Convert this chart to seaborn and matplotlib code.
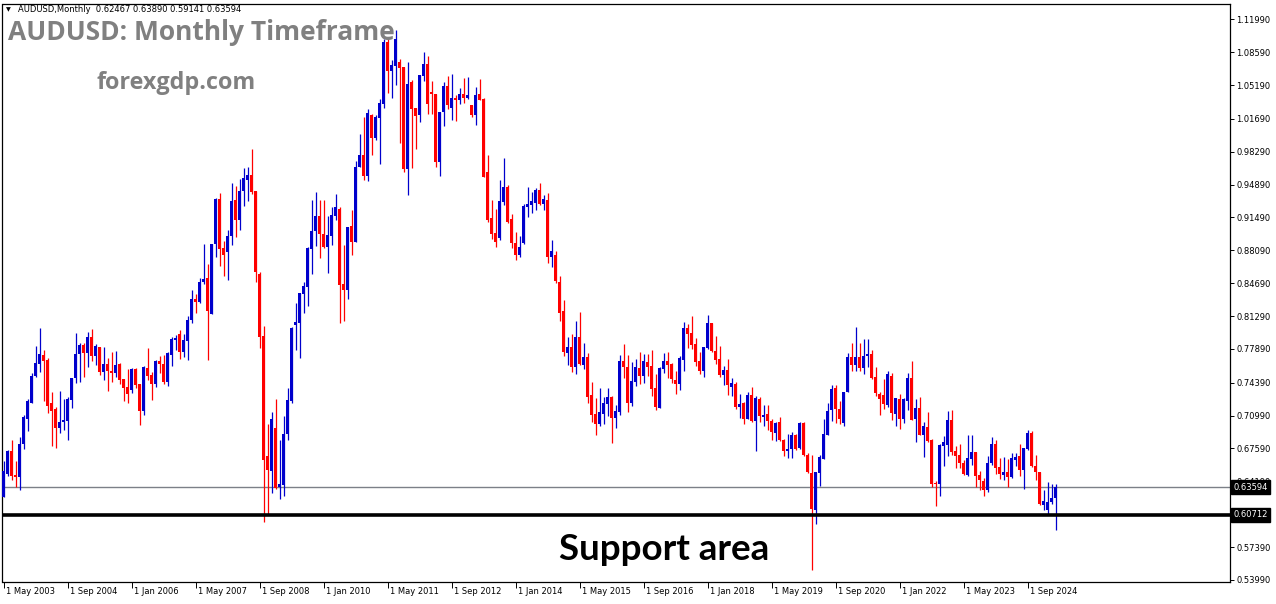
import numpy as np
import pandas as pd
import matplotlib
matplotlib.use("Agg")
import matplotlib.pyplot as plt
import matplotlib.transforms as mtransforms
import seaborn as sns

# ---------------- data (AUDUSD monthly, May 2003 .. Apr 2025) ----------------
opens = [
0.6260,0.6498,0.6732,0.6484,0.6467,0.6805,0.7063,0.7233,
0.7505,0.7636,0.7726,0.7674,0.7226,0.7167,0.6974,0.7032,0.7046,0.7264,0.7491,0.7733,
0.7829,0.7750,0.7912,0.7719,0.7808,0.7550,0.7633,0.7560,0.7539,0.7636,0.7477,0.7395,
0.7364,0.7584,0.7426,0.7146,0.7591,0.7519,0.7426,0.7664,0.7633,0.7446,0.7729,0.7881,
0.7939,0.7760,0.7874,0.8088,0.8305,0.8274,0.8481,0.8522,0.8153,0.8874,0.9340,0.8833,
0.8791,0.8957,0.9329,0.9122,0.9422,0.9536,0.9588,0.9422,0.8564,0.7922,0.6680,0.6525,
0.6970,0.6360,0.6380,0.6908,0.7250,0.8036,0.8057,0.8357,0.8429,0.8822,0.9009,0.9164,
0.8978,0.8843,0.8957,0.9164,0.9236,0.8460,0.8398,0.9060,0.8895,0.9667,0.9795,0.9578,
1.0209,0.9971,1.0178,1.0323,1.0964,1.0664,1.0716,1.0757,1.0705,0.9650,1.0550,1.0281,
1.0209,1.0612,1.0737,1.0447,1.0426,0.9723,1.0240,1.0509,1.0281,1.0385,1.0364,1.0426,
1.0385,1.0312,1.0209,1.0426,1.0374,0.9619,0.9143,0.8988,0.8936,0.9309,0.9464,0.9133,
0.8885,0.8760,0.8885,0.9257,0.9278,0.9298,0.9433,0.9288,0.9329,0.8740,0.8760,0.8481,
0.8181,0.7747,0.7809,0.7602,0.7912,0.7622,0.7705,0.7312,0.7115,0.7012,0.7115,0.7219,
0.7291,0.7074,0.7136,0.7664,0.7602,0.7229,0.7446,0.7591,0.7509,0.7653,0.7612,0.7384,
0.7177,0.7581,0.7664,0.7633,0.7467,0.7426,0.7674,0.8005,0.7953,0.7840,0.7664,0.7560,
0.7798,0.8057,0.7767,0.7684,0.7519,0.7571,0.7394,0.7426,0.7188,0.7229,0.7064,0.7312,
0.7043,0.7271,0.7084,0.7115,0.7040,0.6919,0.7033,0.6846,0.6733,0.6753,0.6898,0.6763,
0.7022,0.6691,0.6505,0.6122,0.6505,0.6650,0.6898,0.7157,0.7384,0.7167,0.7022,0.7343,
0.7705,0.7622,0.7705,0.7591,0.7716,0.7736,0.7498,0.7322,0.7312,0.7208,0.7508,0.7115,
0.7271,0.7064,0.7250,0.7488,0.7064,0.7177,0.6898,0.6981,0.6846,0.6401,0.6391,0.6784,
0.6795,0.7053,0.6732,0.6691,0.6608,0.6484,0.6650,0.6722,0.6484,0.6422,0.6329,0.6608,
0.6805,0.6567,0.6484,0.6515,0.6463,0.6639,0.6681,0.6536,0.6753,0.6919,0.6577,0.6515,
0.6174,0.6122,0.6205,0.62467]
highs = [
0.6629,0.6746,0.6846,0.6629,0.6881,0.7105,0.7270,0.7536,
0.7819,0.8005,0.7777,0.7695,0.7343,0.7184,0.7353,0.7270,0.7295,0.7491,0.7957,0.7853,
0.7846,0.7964,0.7995,0.7836,0.7808,0.7808,0.7698,0.7760,0.7767,0.7643,0.7477,0.7581,
0.7591,0.7591,0.7426,0.7612,0.7798,0.7550,0.7674,0.7719,0.7726,0.7760,0.7909,0.7933,
0.7984,0.7943,0.8129,0.8398,0.8357,0.8522,0.8874,0.8667,0.8874,0.9350,0.9402,0.8905,
0.9019,0.9502,0.9474,0.9547,0.9664,0.9674,0.9857,0.9422,0.8584,0.8026,0.7012,0.7136,
0.7270,0.6846,0.7094,0.7384,0.8015,0.8264,0.8367,0.8481,0.8843,0.9329,0.9412,0.9329,
0.9329,0.9164,0.9257,0.9391,0.9257,0.8864,0.9050,0.9226,0.9733,1.0012,1.0188,1.0271,
1.0219,1.0209,1.0374,1.0995,1.1016,1.0778,1.1088,1.0788,1.0705,1.0757,1.0571,1.0281,
1.0623,1.0861,1.0819,1.0561,1.0426,1.0240,1.0550,1.0612,1.0633,1.0416,1.0488,1.0592,
1.0602,1.0312,1.0499,1.0581,1.0385,0.9795,0.9329,0.9236,0.9536,0.9764,0.9485,0.9185,
0.8998,0.8957,0.9288,0.9464,0.9412,0.9454,0.9505,0.9381,0.9402,0.8916,0.8802,0.8543,
0.8295,0.7912,0.7943,0.8078,0.8171,0.7850,0.7747,0.7446,0.7281,0.7384,0.7291,0.7384,
0.7302,0.7208,0.7726,0.7840,0.7726,0.7653,0.7684,0.7757,0.7736,0.7736,0.7778,0.7529,
0.7602,0.7747,0.7757,0.7643,0.7560,0.7715,0.8067,0.8047,0.8129,0.7902,0.7757,0.7809,
0.8140,0.8057,0.7922,0.7819,0.7612,0.7684,0.7488,0.7446,0.7322,0.7240,0.7343,0.7395,
0.7302,0.7291,0.7208,0.7208,0.7064,0.7033,0.7084,0.6857,0.6908,0.6929,0.6908,0.7033,
0.7030,0.6710,0.6691,0.6515,0.6691,0.7064,0.7229,0.7415,0.7415,0.7250,0.7343,0.7746,
0.7850,0.8016,0.7850,0.7891,0.7891,0.7778,0.7602,0.7343,0.7477,0.7560,0.7539,0.7281,
0.7322,0.7281,0.7539,0.7664,0.7271,0.7291,0.7033,0.7136,0.6857,0.6420,0.6805,0.6888,
0.7146,0.7157,0.6784,0.6805,0.6639,0.6898,0.6898,0.6722,0.6525,0.6453,0.6681,0.6877,
0.6846,0.6660,0.6670,0.6650,0.6712,0.6712,0.6805,0.6763,0.6950,0.6939,0.6691,0.6515,
0.6329,0.6412,0.6391,0.63890]
lows = [
0.6260,0.6477,0.6432,0.6356,0.6329,0.6753,0.6943,0.7233,
0.7495,0.7550,0.7250,0.7122,0.6784,0.6767,0.6922,0.6950,0.6846,0.7181,0.7432,0.7443,
0.7502,0.7605,0.7667,0.7619,0.7519,0.7467,0.7353,0.7443,0.7498,0.7426,0.7250,0.7229,
0.7336,0.7380,0.7001,0.7105,0.7467,0.7260,0.7398,0.7540,0.7426,0.7405,0.7612,0.7777,
0.7688,0.7708,0.7674,0.8053,0.8164,0.8267,0.8460,0.7674,0.8153,0.8740,0.8647,0.8543,
0.8502,0.8864,0.8947,0.9019,0.9267,0.9319,0.9391,0.8481,0.7798,0.6001,0.6070,0.6294,
0.6340,0.6239,0.6270,0.6846,0.7229,0.7777,0.7694,0.8160,0.8233,0.8564,0.8854,0.8729,
0.8833,0.8574,0.8864,0.9122,0.8057,0.8077,0.8305,0.8760,0.8895,0.9667,0.9536,0.9526,
0.9795,0.9950,0.9702,1.0281,1.0437,1.0385,1.0519,0.9919,0.9619,0.9381,0.9661,0.9857,
1.0137,1.0561,1.0219,1.0219,0.9671,0.9578,1.0095,1.0271,1.0157,1.0147,1.0323,1.0333,
1.0374,1.0188,1.0106,1.0364,0.9568,0.9102,0.8926,0.8843,0.8916,0.9278,0.9091,0.8833,
0.8709,0.8740,0.8874,0.9153,0.9195,0.9226,0.9278,0.9226,0.8678,0.8636,0.8471,0.8078,
0.7715,0.7622,0.7550,0.7529,0.7622,0.7581,0.7229,0.7033,0.6898,0.6991,0.7012,0.7095,
0.6815,0.6971,0.7105,0.7488,0.7136,0.7198,0.7405,0.7426,0.7436,0.7509,0.7302,0.7157,
0.7177,0.7540,0.7488,0.7436,0.7322,0.7364,0.7560,0.7798,0.7788,0.7612,0.7529,0.7498,
0.7788,0.7757,0.7633,0.7498,0.7415,0.7312,0.7302,0.7167,0.7074,0.7012,0.7064,0.7033,
0.6733,0.7033,0.6991,0.6950,0.6846,0.6836,0.6836,0.6681,0.6660,0.6660,0.6743,0.6753,
0.6681,0.6505,0.5501,0.5977,0.6370,0.6650,0.6898,0.7043,0.7022,0.7012,0.6991,0.7343,
0.7560,0.7560,0.7560,0.7529,0.7602,0.7478,0.7302,0.7105,0.7167,0.7188,0.7053,0.6991,
0.6960,0.7022,0.7157,0.7053,0.6826,0.6898,0.6670,0.6826,0.6360,0.6163,0.6267,0.6577,
0.6681,0.6691,0.6557,0.6557,0.6484,0.6474,0.6587,0.6360,0.6329,0.6267,0.6308,0.6587,
0.6494,0.6442,0.6432,0.6360,0.6453,0.6577,0.6474,0.6339,0.6743,0.6567,0.6432,0.6174,
0.6122,0.6081,0.6184,0.59141]
closes = [
0.6525,0.6732,0.6477,0.6467,0.6805,0.7088,0.7250,0.7508,
0.7643,0.7736,0.7667,0.7198,0.7146,0.6974,0.7032,0.7053,0.7270,0.7491,0.7736,0.7829,
0.7750,0.7912,0.7719,0.7819,0.7550,0.7633,0.7557,0.7539,0.7622,0.7467,0.7388,0.7322,
0.7584,0.7415,0.7146,0.7605,0.7508,0.7426,0.7667,0.7633,0.7446,0.7743,0.7891,0.7905,
0.7760,0.7881,0.8088,0.8305,0.8274,0.8481,0.8512,0.8184,0.8874,0.9340,0.8826,0.8760,
0.8957,0.9319,0.9122,0.9422,0.9557,0.9588,0.9412,0.8584,0.7912,0.6639,0.6536,0.7063,
0.6349,0.6391,0.6908,0.7260,0.8005,0.8067,0.8367,0.8440,0.8833,0.9009,0.9164,0.8978,
0.8843,0.8967,0.9174,0.9257,0.8450,0.8398,0.9050,0.8895,0.9671,0.9795,0.9578,1.0230,
0.9971,1.0188,1.0333,1.0964,1.0664,1.0726,1.0995,1.0695,0.9650,1.0530,1.0271,1.0199,
1.0623,1.0737,1.0323,1.0426,0.9723,1.0240,1.0509,1.0312,1.0385,1.0364,1.0426,1.0385,
1.0416,1.0209,1.0416,1.0364,0.9568,0.9122,0.8978,0.8895,0.9319,0.9464,0.9102,0.8885,
0.8760,0.8843,0.9267,0.9288,0.9319,0.9433,0.9288,0.9340,0.8740,0.8802,0.8491,0.8160,
0.7757,0.7809,0.7602,0.7912,0.7633,0.7705,0.7291,0.7105,0.7012,0.7136,0.7229,0.7291,
0.7074,0.7146,0.7664,0.7602,0.7229,0.7457,0.7602,0.7509,0.7664,0.7602,0.7374,0.7188,
0.7591,0.7664,0.7622,0.7477,0.7426,0.7695,0.8005,0.7943,0.7829,0.7653,0.7560,0.7809,
0.8057,0.7767,0.7674,0.7519,0.7571,0.7415,0.7436,0.7188,0.7219,0.7064,0.7312,0.7043,
0.7281,0.7095,0.7105,0.7040,0.6929,0.7022,0.6846,0.6733,0.6753,0.6898,0.6753,0.7022,
0.6691,0.6515,0.6132,0.6515,0.6670,0.6908,0.7146,0.7374,0.7167,0.7064,0.7343,0.7705,
0.7622,0.7705,0.7591,0.7716,0.7736,0.7488,0.7333,0.7271,0.7219,0.7529,0.7126,0.7281,
0.7064,0.7271,0.7488,0.7053,0.7177,0.6898,0.6991,0.6836,0.6391,0.6391,0.6795,0.6826,
0.7053,0.6722,0.6681,0.6608,0.6494,0.6660,0.6722,0.6474,0.6432,0.6329,0.6608,0.6805,
0.6557,0.6494,0.6515,0.6463,0.6660,0.6670,0.6536,0.6763,0.6919,0.6577,0.6515,0.6184,
0.6215,0.6205,0.6246,0.63594]

xtick_labels = ["1 May 2003", "1 Sep 2004", "1 Jan 2006", "1 May 2007", "1 Sep 2008",
                "1 Jan 2010", "1 May 2011", "1 Sep 2012", "1 Jan 2014", "1 May 2015",
                "1 Sep 2016", "1 Jan 2018", "1 May 2019", "1 Sep 2020", "1 Jan 2022",
                "1 May 2023", "1 Sep 2024"]
ytick_values = [1.11990, 1.08590, 1.05190, 1.01690, 0.98290, 0.94890, 0.91490, 0.88090,
                0.84690, 0.81290, 0.77890, 0.74390, 0.70990, 0.67590, 0.64190, 0.57390,
                0.53990]
current_price = 0.63594
support_price = 0.60712
header = "AUDUSD,Monthly  0.62467 0.63890 0.59141 0.63594"

n = len(closes)
assert len(opens) == len(highs) == len(lows) == n
months = pd.date_range("2003-05-01", periods=n, freq="MS")
df = pd.DataFrame({"date": months, "open": opens, "high": highs, "low": lows, "close": closes})
df["idx"] = np.arange(n)
df["bull"] = df["close"] >= df["open"]

# ---------------- style ----------------
sns.set_theme(style="white")
plt.rcParams["font.family"] = ["DejaVu Sans"]

W, H = 1276, 604
fig = plt.figure(figsize=(W / 100, H / 100), dpi=100)
ax_left, ax_right, ax_top, ax_bot = 2.5, 1229.5, 4.0, 582.0
ax = fig.add_axes([ax_left / W, 1 - ax_bot / H, (ax_right - ax_left) / W, (ax_bot - ax_top) / H])
ax.set_facecolor("white")

BLUE = "#0000CC"
RED = "#FF0000"
colors = np.where(df["bull"], BLUE, RED)

# wicks
ax.vlines(df["idx"], df["low"], df["high"], colors=colors, linewidth=0.9, zorder=3)
# bodies
body_lo = np.minimum(df["open"], df["close"])
body_h = np.maximum(np.abs(df["close"] - df["open"]), 0.0012)
ax.bar(df["idx"], body_h, bottom=body_lo, width=0.8, color=colors, linewidth=0, zorder=4)

# horizontal lines
ax.axhline(current_price, color="#7c8088", linewidth=1.0, zorder=2)
ax.axhline(support_price, color="black", linewidth=2.6, zorder=5)

ax.set_xlim(-0.25, 306.5)
ax.set_ylim(0.53770, 1.13573)

for s in ax.spines.values():
    s.set_color("black")
    s.set_linewidth(0.9)
    s.set_visible(True)

# y axis on right
ax.yaxis.tick_right()
ax.set_yticks(ytick_values)
ax.set_yticklabels([f"{v:.5f}" for v in ytick_values])
ax.tick_params(axis="y", which="major", direction="out", length=3, width=0.7, color="black",
               labelsize=6, pad=2, labelcolor="black", right=True, left=False)

# x ticks
tick_idx = [16 * k for k in range(len(xtick_labels))]
ax.set_xticks(tick_idx)
ax.set_xticklabels([""] * len(tick_idx))
ax.tick_params(axis="x", which="major", direction="out", length=4, width=0.7, color="black",
               bottom=True, labelsize=6)
trans = mtransforms.blended_transform_factory(ax.transData, ax.transAxes) + \
    mtransforms.ScaledTranslation(2 / 100, -9 / 100, fig.dpi_scale_trans)
for t, lab in zip(tick_idx, xtick_labels):
    ax.text(t, 0, lab, transform=trans, ha="left", va="center", fontsize=6, color="black")

ax.set_xlabel("")
ax.set_ylabel("")
ax.grid(False)

# price boxes on right axis (drawn over the neighbouring tick label, as in the terminal)
def ypix(p):
    return ax_top + (1.13573 - p) / (1.13573 - 0.53770) * (ax_bot - ax_top)

for p in (current_price, support_price):
    fig.text(1233 / W, 1 - ypix(p) / H, f"{p:.5f}", color="white", fontsize=6,
             ha="left", va="center", zorder=10,
             bbox=dict(boxstyle="square,pad=0.3", fc="black", ec="black"))

# header and titles
fig.text(6 / W, 1 - 10 / H, "\u25BC", fontsize=4.5, color="black", ha="left", va="center")
fig.text(18 / W, 1 - 10 / H, header, fontsize=6, color="black", ha="left", va="center")
fig.text(8 / W, 1 - 33 / H, "AUDUSD: Monthly Timeframe", fontsize=19, fontweight="bold",
         family=["Open Sans", "DejaVu Sans"], color="#808080", ha="left", va="center")
fig.text(97 / W, 1 - 83 / H, "forexgdp.com", fontsize=16.8, fontweight="bold",
         family=["Open Sans", "DejaVu Sans"], color="#808080", ha="left", va="center")
fig.text(559 / W, 1 - 549 / H, "Support area", fontsize=26.5, fontweight="bold",
         family=["Lato", "DejaVu Sans"], color="black", ha="left", va="center")

fig.savefig("out.png", dpi=100, facecolor="white")
